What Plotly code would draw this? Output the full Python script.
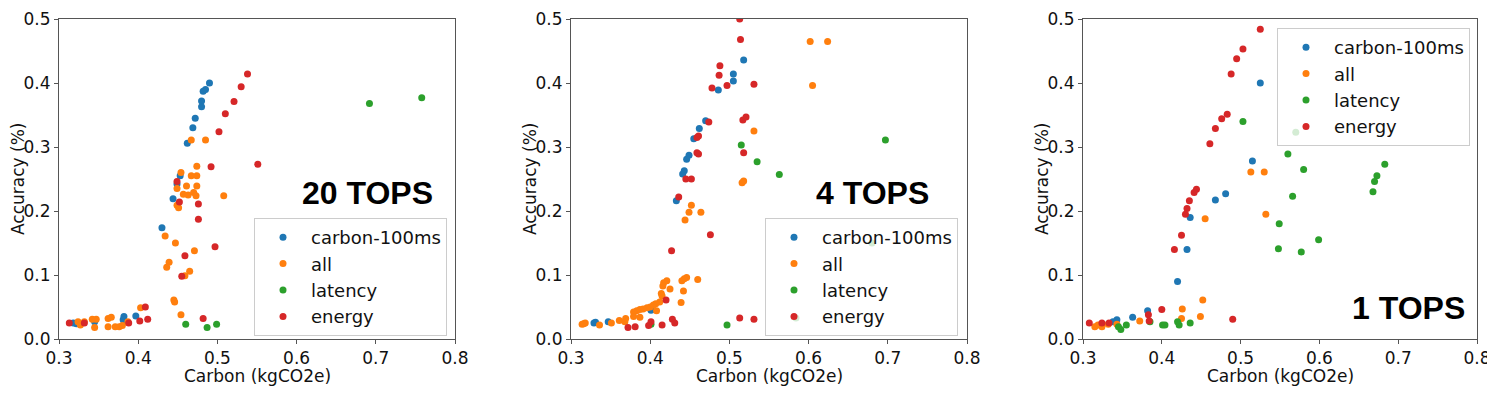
import plotly.graph_objects as go

# --------------------------- DATA ---------------------------
series_names = ["carbon-100ms", "all", "latency", "energy"]
series_colors = ["#1f77b4", "#ff7f0e", "#2ca02c", "#d62728"]
panel_labels = ["20 TOPS", "4 TOPS", "1 TOPS"]
x_ticks = [0.3, 0.4, 0.5, 0.6, 0.7, 0.8]
y_ticks = [0.0, 0.1, 0.2, 0.3, 0.4, 0.5]

# 20 TOPS
tops20_carbon_x = [0.490, 0.485, 0.482, 0.480, 0.480, 0.472, 0.469, 0.462, 0.453, 0.449, 0.444, 0.430, 0.382, 0.397, 0.381, 0.345, 0.318, 0.322]
tops20_carbon_y = [0.400, 0.390, 0.387, 0.372, 0.363, 0.345, 0.330, 0.306, 0.255, 0.242, 0.219, 0.174, 0.035, 0.036, 0.030, 0.027, 0.025, 0.024]
tops20_all_x = [0.467, 0.485, 0.474, 0.454, 0.467, 0.474, 0.461, 0.474, 0.449, 0.457, 0.463, 0.470, 0.473, 0.508, 0.449, 0.451, 0.434, 0.447, 0.471, 0.439,
                0.436, 0.465, 0.459, 0.445, 0.446, 0.454, 0.403, 0.342, 0.347, 0.345, 0.324, 0.327, 0.332, 0.362, 0.366, 0.362, 0.371, 0.376, 0.380, 0.387]
tops20_all_y = [0.311, 0.311, 0.270, 0.260, 0.255, 0.255, 0.239, 0.239, 0.235, 0.226, 0.225, 0.229, 0.224, 0.224, 0.209, 0.205, 0.161, 0.150, 0.138, 0.120,
                0.112, 0.106, 0.099, 0.061, 0.058, 0.038, 0.049, 0.031, 0.031, 0.018, 0.027, 0.022, 0.027, 0.032, 0.034, 0.019, 0.019, 0.019, 0.021, 0.027]
tops20_latency_x = [0.692, 0.758, 0.460, 0.487, 0.499]
tops20_latency_y = [0.368, 0.377, 0.023, 0.018, 0.023]
tops20_energy_x = [0.538, 0.530, 0.521, 0.510, 0.502, 0.492, 0.551, 0.449, 0.452, 0.476, 0.476, 0.497, 0.459, 0.455, 0.409, 0.482, 0.412, 0.402, 0.388, 0.332, 0.313]
tops20_energy_y = [0.414, 0.394, 0.371, 0.352, 0.324, 0.269, 0.273, 0.246, 0.214, 0.211, 0.187, 0.144, 0.130, 0.098, 0.050, 0.032, 0.031, 0.028, 0.025, 0.025, 0.025]

# 4 TOPS
tops4_carbon_x = [0.518, 0.505, 0.505, 0.486, 0.470, 0.462, 0.455, 0.449, 0.446, 0.443, 0.441, 0.433, 0.401, 0.347, 0.329, 0.331]
tops4_carbon_y = [0.436, 0.414, 0.403, 0.389, 0.341, 0.329, 0.313, 0.287, 0.281, 0.263, 0.258, 0.216, 0.045, 0.027, 0.025, 0.026]
tops4_all_x = [0.602, 0.624, 0.605, 0.531, 0.516, 0.518, 0.452, 0.449, 0.464, 0.444, 0.446, 0.443, 0.440, 0.460, 0.421, 0.417, 0.416, 0.425, 0.442, 0.414, 0.415,
               0.439, 0.412, 0.407, 0.404, 0.400, 0.396, 0.391, 0.387, 0.383, 0.379, 0.379, 0.387, 0.408, 0.369, 0.368, 0.361, 0.351, 0.336, 0.318, 0.314, 0.316]
tops4_all_y = [0.465, 0.465, 0.396, 0.325, 0.244, 0.247, 0.209, 0.198, 0.198, 0.186, 0.096, 0.094, 0.091, 0.093, 0.091, 0.088, 0.083, 0.078, 0.075, 0.071, 0.067,
               0.057, 0.058, 0.055, 0.053, 0.050, 0.049, 0.047, 0.046, 0.044, 0.042, 0.035, 0.034, 0.044, 0.032, 0.027, 0.029, 0.025, 0.022, 0.025, 0.023, 0.024]
tops4_latency_x = [0.515, 0.535, 0.697, 0.563, 0.680, 0.584, 0.497, 0.401]
tops4_latency_y = [0.303, 0.277, 0.311, 0.257, 0.150, 0.033, 0.022, 0.023]
tops4_energy_x = [0.513, 0.514, 0.488, 0.487, 0.478, 0.497, 0.531, 0.474, 0.517, 0.521, 0.459, 0.461, 0.459, 0.461, 0.518, 0.445, 0.452, 0.436, 0.427, 0.476,
                  0.420, 0.428, 0.431, 0.415, 0.401, 0.398, 0.381, 0.372, 0.513, 0.531]
tops4_energy_y = [0.500, 0.468, 0.427, 0.412, 0.392, 0.396, 0.398, 0.339, 0.342, 0.347, 0.315, 0.317, 0.291, 0.289, 0.291, 0.250, 0.250, 0.222, 0.138, 0.163,
                  0.061, 0.031, 0.025, 0.022, 0.027, 0.021, 0.019, 0.018, 0.033, 0.031]

# 1 TOPS
tops1_carbon_x = [0.525, 0.515, 0.481, 0.468, 0.436, 0.432, 0.420, 0.382, 0.363, 0.343, 0.338]
tops1_carbon_y = [0.400, 0.278, 0.227, 0.217, 0.190, 0.140, 0.090, 0.044, 0.034, 0.030, 0.027]
tops1_all_x = [0.513, 0.530, 0.532, 0.455, 0.452, 0.426, 0.449, 0.425, 0.372, 0.315, 0.343, 0.332, 0.324, 0.319]
tops1_all_y = [0.261, 0.261, 0.195, 0.188, 0.061, 0.047, 0.035, 0.032, 0.028, 0.019, 0.023, 0.023, 0.019, 0.022]
tops1_latency_x = [0.570, 0.560, 0.580, 0.566, 0.549, 0.548, 0.577, 0.599, 0.683, 0.673, 0.670, 0.668, 0.503, 0.385, 0.401, 0.404, 0.420, 0.422, 0.436, 0.355, 0.345, 0.348]
tops1_latency_y = [0.323, 0.289, 0.265, 0.223, 0.180, 0.141, 0.136, 0.155, 0.273, 0.255, 0.246, 0.230, 0.340, 0.027, 0.022, 0.022, 0.027, 0.022, 0.025, 0.022, 0.019, 0.015]
tops1_energy_x = [0.525, 0.503, 0.495, 0.488, 0.483, 0.476, 0.468, 0.461, 0.444, 0.441, 0.435, 0.432, 0.430, 0.425, 0.416, 0.400, 0.383, 0.384, 0.490, 0.308, 0.324, 0.333]
tops1_energy_y = [0.484, 0.453, 0.438, 0.414, 0.351, 0.344, 0.329, 0.305, 0.234, 0.229, 0.216, 0.204, 0.195, 0.162, 0.140, 0.046, 0.038, 0.028, 0.031, 0.025, 0.025, 0.025]

panels = [
    [(tops20_carbon_x, tops20_carbon_y), (tops20_all_x, tops20_all_y), (tops20_latency_x, tops20_latency_y), (tops20_energy_x, tops20_energy_y)],
    [(tops4_carbon_x, tops4_carbon_y), (tops4_all_x, tops4_all_y), (tops4_latency_x, tops4_latency_y), (tops4_energy_x, tops4_energy_y)],
    [(tops1_carbon_x, tops1_carbon_y), (tops1_all_x, tops1_all_y), (tops1_latency_x, tops1_latency_y), (tops1_energy_x, tops1_energy_y)],
]

# --------------------------- LAYOUT ---------------------------
# page body has an 8px margin, so the figure is drawn 8px in from the window corner
OFFSET = 8
W, H = 1495 - OFFSET, 394 - OFFSET


def px(x):
    return (x - OFFSET) / W


def py(y):
    return 1 - (y - OFFSET) / H


x_domains = [(59, 455), (571, 967), (1083, 1477)]
top_px, bottom_px = 19, 339
legend_pos = [(254, 218), (765, 218), (1277, 28)]
label_pos = [(367, 193), (872, 193), (1408, 308)]

font_main = "DejaVu Sans, sans-serif"
text_color = "#111111"
axis_color = "#555555"

fig = go.Figure()

for p, data in enumerate(panels):
    suffix = "" if p == 0 else str(p + 1)
    for name, color, (xs, ys) in zip(series_names, series_colors, data):
        fig.add_trace(
            go.Scatter(
                x=xs,
                y=ys,
                mode="markers",
                name=name,
                marker=dict(color=color, size=7, line=dict(width=0)),
                xaxis="x" + suffix,
                yaxis="y" + suffix,
                legend="legend" + suffix,
            )
        )

    axis_common = dict(
        showline=True,
        mirror=True,
        linecolor=axis_color,
        linewidth=1,
        ticks="outside",
        ticklen=4,
        tickcolor=axis_color,
        showgrid=False,
        zeroline=False,
        automargin=False,
        tickfont=dict(family=font_main, size=17, color=text_color),
        tickformat=".1f",
    )
    fig.update_layout(
        {
            "xaxis" + suffix: dict(
                axis_common,
                domain=[px(x_domains[p][0]), px(x_domains[p][1])],
                range=[0.3, 0.8],
                tickvals=x_ticks,
                anchor="y" + suffix,
            ),
            "yaxis" + suffix: dict(
                axis_common,
                domain=[py(bottom_px), py(top_px)],
                range=[0, 0.5],
                tickvals=y_ticks,
                anchor="x" + suffix,
            ),
            "legend" + suffix: dict(
                x=px(legend_pos[p][0]),
                y=py(legend_pos[p][1]),
                xanchor="left",
                yanchor="top",
                bgcolor="rgba(255,255,255,0.8)",
                bordercolor="#cccccc",
                borderwidth=1,
                font=dict(family=font_main, size=18, color=text_color),
                itemwidth=46,
            ),
        }
    )

    # axis titles as annotations for exact placement
    fig.add_annotation(
        text="Carbon (kgCO2e)",
        x=px((x_domains[p][0] + x_domains[p][1]) / 2),
        y=py(376),
        xref="paper", yref="paper", showarrow=False,
        xanchor="center", yanchor="middle",
        font=dict(family=font_main, size=17, color=text_color),
    )
    fig.add_annotation(
        text="Accuracy (%)",
        x=px(x_domains[p][0] - 41),
        y=py((top_px + bottom_px) / 2),
        xref="paper", yref="paper", showarrow=False, textangle=-90,
        xanchor="center", yanchor="middle",
        font=dict(family=font_main, size=17, color=text_color),
    )

    fig.add_annotation(
        text="<b>%s</b>" % panel_labels[p],
        x=px(label_pos[p][0]),
        y=py(label_pos[p][1]),
        xref="paper",
        yref="paper",
        showarrow=False,
        xanchor="center", yanchor="middle",
        font=dict(family="Liberation Sans, Arial, sans-serif", size=32, color="black"),
    )

fig.update_layout(
    width=W,
    height=H,
    margin=dict(l=0, r=0, t=0, b=0, autoexpand=False),
    paper_bgcolor="white",
    plot_bgcolor="white",
    showlegend=True,
)

fig.write_html("out.html")
